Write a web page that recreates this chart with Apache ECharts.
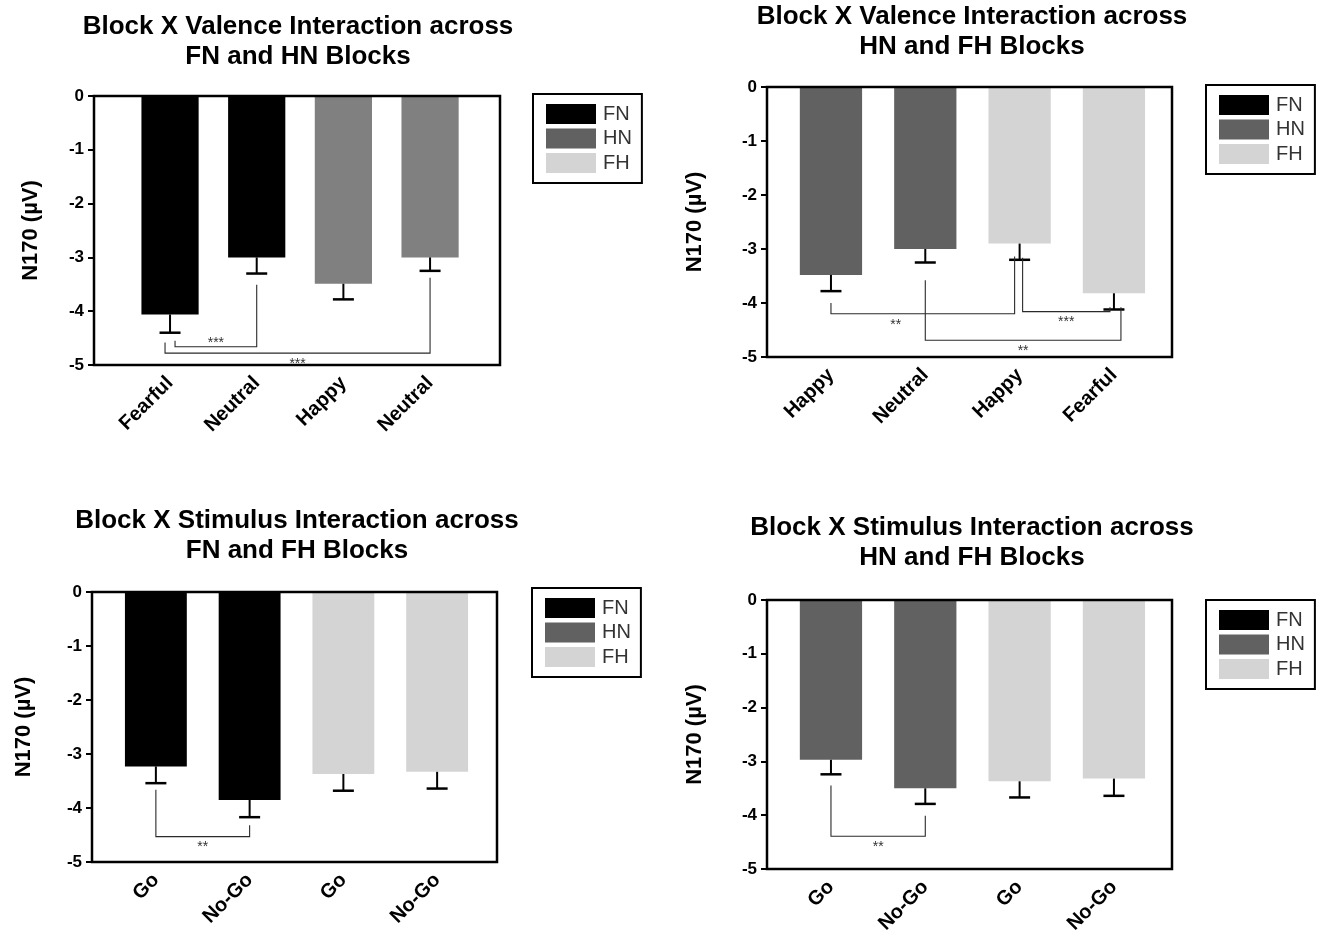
<!DOCTYPE html>
<html><head><meta charset="utf-8">
<script src="https://cdn.jsdelivr.net/npm/echarts@6/dist/echarts.min.js"></script>
<style>html,body{margin:0;padding:0;background:#fff}#c{width:1323px;height:939px}</style>
</head><body><div id="c"></div>
<script>
// ---------------- DATA ----------------
const blockNames = ['FN', 'HN', 'FH'];
const yAxisTitle = 'N170 (µV)';

const p1Title = 'Block X Valence Interaction across\nFN and HN Blocks';
const p1Categories = ['Fearful', 'Neutral', 'Happy', 'Neutral'];
const p1Blocks = ['FN', 'FN', 'HN', 'HN'];
const p1Means = [-4.06, -3.00, -3.49, -3.00];
const p1ErrorEnds = [-4.40, -3.30, -3.78, -3.25];
// [fromIndex, toIndex, leftLegTop, bracketLevel, rightLegTop]
const p1Brackets = [[0, 1, -4.55, -4.66, -3.51], [0, 3, -4.58, -4.78, -3.38]];
const p1BracketLabels = ['***', '***'];

const p2Title = 'Block X Valence Interaction across\nHN and FH Blocks';
const p2Categories = ['Happy', 'Neutral', 'Happy', 'Fearful'];
const p2Blocks = ['HN', 'HN', 'FH', 'FH'];
const p2Means = [-3.48, -3.00, -2.90, -3.82];
const p2ErrorEnds = [-3.78, -3.25, -3.20, -4.12];
const p2Brackets = [[0, 2, -4.00, -4.20, -3.14], [2, 3, -3.16, -4.16, -4.08], [1, 3, -3.58, -4.69, -4.08]];
const p2BracketLabels = ['**', '***', '**'];

const p3Title = 'Block X Stimulus Interaction across\nFN and FH Blocks';
const p3Categories = ['Go', 'No-Go', 'Go', 'No-Go'];
const p3Blocks = ['FN', 'FN', 'FH', 'FH'];
const p3Means = [-3.23, -3.85, -3.37, -3.33];
const p3ErrorEnds = [-3.54, -4.17, -3.68, -3.64];
const p3Brackets = [[0, 1, -3.66, -4.53, -4.32]];
const p3BracketLabels = ['**'];

const p4Title = 'Block X Stimulus Interaction across\nHN and FH Blocks';
const p4Categories = ['Go', 'No-Go', 'Go', 'No-Go'];
const p4Blocks = ['HN', 'HN', 'FH', 'FH'];
const p4Means = [-2.97, -3.50, -3.37, -3.32];
const p4ErrorEnds = [-3.24, -3.79, -3.67, -3.64];
const p4Brackets = [[0, 1, -3.45, -4.39, -4.01]];
const p4BracketLabels = ['**'];

// ---------------- LAYOUT / STYLE ----------------
const FONT = '"Liberation Sans", Arial, sans-serif';
const blockColors = { FN: '#000000', HN: '#616161', FH: '#d4d4d4' };

const panels = [
  { title: p1Title, categories: p1Categories, blocks: p1Blocks, means: p1Means, errs: p1ErrorEnds, brackets: p1Brackets, bracketLabels: p1BracketLabels },
  { title: p2Title, categories: p2Categories, blocks: p2Blocks, means: p2Means, errs: p2ErrorEnds, brackets: p2Brackets, bracketLabels: p2BracketLabels },
  { title: p3Title, categories: p3Categories, blocks: p3Blocks, means: p3Means, errs: p3ErrorEnds, brackets: p3Brackets, bracketLabels: p3BracketLabels },
  { title: p4Title, categories: p4Categories, blocks: p4Blocks, means: p4Means, errs: p4ErrorEnds, brackets: p4Brackets, bracketLabels: p4BracketLabels }
];

const layouts = [
  { frame: { left: 94, top: 96, width: 406, height: 269 }, inner: { left: 126.7, width: 346.7 },
    titleX: 298, titleTop: 12, legend: { left: 533, top: 94 }, nameGap: 52, barColors: { HN: '#808080' },
    legDx: [[5, 0], [-5, 0]], labelSide: ['above', 'below'], labelDx: [0, 0] },
  { frame: { left: 767, top: 87, width: 405, height: 270 }, inner: { left: 783.8, width: 377.3 },
    titleX: 972, titleTop: 2, legend: { left: 1206, top: 85 }, nameGap: 61, barColors: {},
    legDx: [[0, -5], [3, -4], [0, 7]], labelSide: ['below', 'below', 'below'], labelDx: [-27, 0, 0] },
  { frame: { left: 92, top: 592, width: 405, height: 270 }, inner: { left: 109, width: 375 },
    titleX: 297, titleTop: 506, legend: { left: 532, top: 588 }, nameGap: 57, barColors: {},
    legDx: [[0, 0]], labelSide: ['below'], labelDx: [0] },
  { frame: { left: 767, top: 600, width: 405, height: 269 }, inner: { left: 783.8, width: 377.3 },
    titleX: 972, titleTop: 513, legend: { left: 1206, top: 600 }, nameGap: 61, barColors: {},
    legDx: [[0, 0]], labelSide: ['below'], labelDx: [0] }
];

const grids = [], xAxes = [], yAxes = [], series = [], titles = [], legends = [];

panels.forEach((p, k) => {
  const L = layouts[k];
  const gf = 2 * k, gi = 2 * k + 1;
  grids.push({ left: L.frame.left, top: L.frame.top, width: L.frame.width, height: L.frame.height,
    show: true, borderColor: '#000', borderWidth: 2.5, backgroundColor: 'transparent', z: 10, outerBoundsMode: 'none' });
  grids.push({ left: L.inner.left, top: L.frame.top, width: L.inner.width, height: L.frame.height, show: false, outerBoundsMode: 'none' });

  xAxes.push({ gridIndex: gf, type: 'value', min: 0, max: 1, show: false });
  xAxes.push({ gridIndex: gi, type: 'category', data: p.categories,
    axisLine: { show: false },
    axisTick: { show: true, alignWithLabel: true, length: 9, lineStyle: { color: '#000', width: 2 } },
    axisLabel: { rotate: 45, margin: 15, interval: 0, fontSize: 20, fontWeight: 'bold', color: '#000', fontFamily: FONT },
    splitLine: { show: false } });

  yAxes.push({ gridIndex: gf, type: 'value', min: -5, max: 0, interval: 1,
    axisLine: { show: false },
    axisTick: { show: true, length: 6, lineStyle: { color: '#000', width: 2 } },
    axisLabel: { margin: 10, fontSize: 17, fontWeight: 'bold', color: '#000', fontFamily: FONT },
    splitLine: { show: false },
    name: yAxisTitle, nameLocation: 'middle', nameGap: L.nameGap, nameRotate: 90,
    nameTextStyle: { fontSize: 22, fontWeight: 'bold', color: '#000', fontFamily: FONT } });
  yAxes.push({ gridIndex: gi, type: 'value', min: -5, max: 0, show: false });

  blockNames.forEach(b => {
    series.push({ type: 'bar', name: b, xAxisIndex: gi, yAxisIndex: gi,
      data: p.means.map((v, i) => p.blocks[i] === b ? v : '-'),
      barWidth: '66%', barGap: '-100%', silent: true,
      itemStyle: { color: L.barColors[b] || blockColors[b] } });
  });

  // error bars
  series.push({ type: 'custom', xAxisIndex: gi, yAxisIndex: gi, silent: true, z: 4,
    data: p.means.map((m, i) => [i, m, p.errs[i]]),
    encode: { x: 0, y: [1, 2] },
    renderItem: (params, api) => {
      const a = api.coord([api.value(0), api.value(1)]);
      const b = api.coord([api.value(0), api.value(2)]);
      const half = 10.5;
      return { type: 'group', children: [
        { type: 'line', shape: { x1: a[0], y1: a[1], x2: b[0], y2: b[1] }, style: { stroke: '#000', lineWidth: 2 } },
        { type: 'line', shape: { x1: b[0] - half, y1: b[1], x2: b[0] + half, y2: b[1] }, style: { stroke: '#000', lineWidth: 2.5 } }
      ] };
    } });

  // significance brackets
  series.push({ type: 'custom', xAxisIndex: gi, yAxisIndex: gi, silent: true, z: 5,
    data: p.brackets,
    encode: { x: [0, 1], y: [2, 3, 4] },
    renderItem: (params, api) => {
      const idx = params.dataIndex;
      const i0 = api.value(0), i1 = api.value(1);
      const dx = L.legDx[idx];
      const pL = api.coord([i0, api.value(2)]);
      const pLv = api.coord([i0, api.value(3)]);
      const pR = api.coord([i1, api.value(4)]);
      const xl = pL[0] + dx[0], xr = pR[0] + dx[1], yl = pLv[1];
      const side = L.labelSide[idx];
      const ty = side === 'above' ? yl - 4 : yl + 11;
      return { type: 'group', children: [
        { type: 'polyline', shape: { points: [[xl, pL[1]], [xl, yl], [xr, yl], [xr, pR[1]]] },
          style: { stroke: '#2a2a2a', lineWidth: 1.1, fill: null } },
        { type: 'text', x: (xl + xr) / 2 + L.labelDx[idx], y: ty,
          style: { text: p.bracketLabels[idx], fill: '#333', fontSize: 14, fontFamily: FONT, align: 'center', verticalAlign: 'middle' } }
      ] };
    } });

  titles.push({ text: p.title, left: L.titleX, top: L.titleTop, textAlign: 'center', padding: 0,
    textStyle: { fontSize: 26, fontWeight: 'bold', color: '#000', lineHeight: 30, fontFamily: FONT } });

  legends.push({ orient: 'vertical', left: L.legend.left, top: L.legend.top, padding: [10, 10, 10, 13],
    itemWidth: 50, itemHeight: 20, itemGap: 4.5, borderColor: '#000', borderWidth: 2, borderRadius: 0,
    icon: 'rect', selectedMode: false,
    textStyle: { fontSize: 20, color: '#333', fontFamily: FONT, padding: [0, 0, 0, 2] },
    data: blockNames.map(b => ({ name: b, itemStyle: { color: blockColors[b] } })) });
});

const chart = echarts.init(document.getElementById('c'), null, { renderer: 'canvas' });
chart.setOption({
  backgroundColor: '#fff',
  animation: false,
  title: titles,
  legend: legends,
  grid: grids,
  xAxis: xAxes,
  yAxis: yAxes,
  series: series
});
</script>
</body></html>
